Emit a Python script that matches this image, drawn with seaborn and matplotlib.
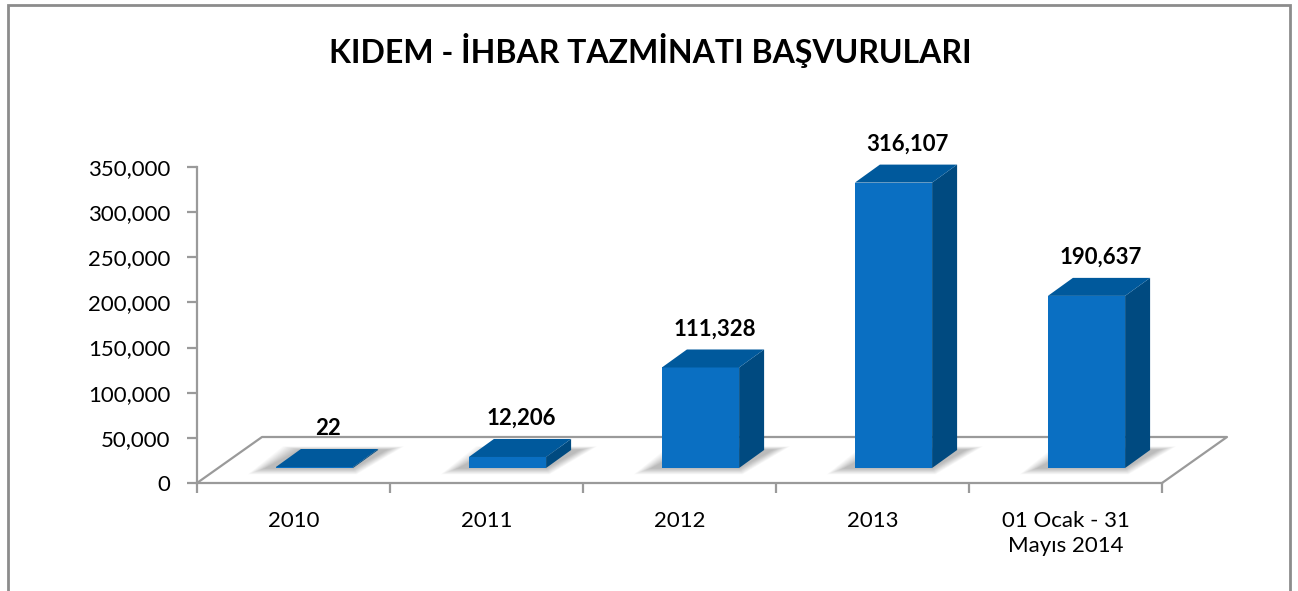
import matplotlib
matplotlib.use("Agg")
import matplotlib.pyplot as plt
import matplotlib.transforms as mtrans
from matplotlib.patches import Polygon, Rectangle
from matplotlib.lines import Line2D
from matplotlib.ticker import FuncFormatter, MultipleLocator
import seaborn as sns
import pandas as pd

# ---- data ----
categories = ["2010", "2011", "2012", "2013", "01 Ocak - 31\nMayıs 2014"]
values = [22, 12206, 111328, 316107, 190637]
value_labels = ["22", "12,206", "111,328", "316,107", "190,637"]
title = "KIDEM - İHBAR TAZMİNATI BAŞVURULARI"

FONT = ["Lato", "DejaVu Sans"]
sns.set_theme(style="white")
plt.rcParams["font.family"] = FONT

W, H, DPI = 1298, 591, 100
fig = plt.figure(figsize=(W / DPI, H / DPI), dpi=DPI)
fig.patch.set_facecolor("white")

# axes placement (pixels)
ax_l, ax_r, ax_b, ax_t = 197, 1162, 483, 167
ax = fig.add_axes([ax_l / W, (H - ax_b) / H, (ax_r - ax_l) / W, (ax_b - ax_t) / H])
ax.set_facecolor("none")

YMAX = 350000
df = pd.DataFrame({"cat": categories, "val": values})

FRONT = "#0A6FC2"
TOP = "#00599C"
SIDE = "#004A80"

sns.barplot(data=df, x="cat", y="val", color=FRONT, width=0.4, ax=ax,
            saturation=1, zorder=5)
ax.set_xlim(-0.5, len(categories) - 0.5)
ax.set_ylim(0, YMAX)

# pixel -> data scale
ax_w_px = ax_r - ax_l
ax_h_px = ax_b - ax_t
px_x = (len(categories)) / ax_w_px
px_y = YMAX / ax_h_px

# 3D geometry (pixels)
bar_shift = (21, 15)      # front face offset into the floor
bar_depth = (25, 18)      # bar depth
floor_depth = (65, 46)

shift_tr = mtrans.offset_copy(ax.transData, fig=fig, x=bar_shift[0], y=bar_shift[1], units="dots")

ddx, ddy = bar_depth[0] * px_x, bar_depth[1] * px_y
min_h = 1.0 * px_y

for p in ax.patches:
    x0 = p.get_x()
    w = p.get_width()
    h = max(p.get_height(), min_h)
    p.set_height(h)
    p.set_transform(shift_tr)
    p.set_edgecolor("none")
    x1 = x0 + w
    # soft shadow on the floor
    for k in range(12, 0, -1):
        e = k * 1.5
        sh = Polygon([(x0 - (e + 10) * px_x, -e * 0.35 * px_y),
                      (x1 + e * 0.2 * px_x, -e * 0.35 * px_y),
                      (x1 + ddx + (e + 8) * px_x, ddy + e * 0.2 * px_y),
                      (x0 + ddx - e * px_x, ddy + e * 0.2 * px_y)],
                     closed=True, facecolor="#000000", alpha=0.025,
                     edgecolor="none", transform=shift_tr, zorder=2, clip_on=False)
        ax.add_patch(sh)
    side = Polygon([(x1, 0), (x1 + ddx, ddy), (x1 + ddx, h + ddy), (x1, h)],
                   closed=True, facecolor=SIDE, edgecolor="none",
                   transform=shift_tr, zorder=5, clip_on=False)
    top = Polygon([(x0, h), (x1, h), (x1 + ddx, h + ddy), (x0 + ddx, h + ddy)],
                  closed=True, facecolor=TOP, edgecolor="none",
                  transform=shift_tr, zorder=5, clip_on=False)
    ax.add_patch(side)
    ax.add_patch(top)
    p.set_clip_on(False)

# data labels
lbl_tr = mtrans.offset_copy(ax.transData, fig=fig, x=bar_shift[0] + 14,
                            y=bar_shift[1] + bar_depth[1] + 10, units="dots")
for p, lab in zip(ax.patches[:len(values)], value_labels):
    cx = p.get_x() + p.get_width() / 2
    ax.text(cx, p.get_height(), lab, transform=lbl_tr, ha="center", va="bottom",
            fontsize=16, fontweight="bold", color="black", zorder=10)

# floor outline
fdx, fdy = floor_depth[0] * px_x, floor_depth[1] * px_y
x_lo, x_hi = -0.5, len(categories) - 0.5
GRAY = "#9A9A9A"
ax.add_line(Line2D([x_lo, x_lo + fdx, x_hi + fdx, x_hi], [0, fdy, fdy, 0],
                   color=GRAY, lw=1.6, clip_on=False, zorder=1))

# spines / ticks
for s in ["top", "right"]:
    ax.spines[s].set_visible(False)
for s in ["left", "bottom"]:
    ax.spines[s].set_color(GRAY)
    ax.spines[s].set_linewidth(1.6)
ax.yaxis.set_major_locator(MultipleLocator(50000))
ax.yaxis.set_major_formatter(FuncFormatter(lambda v, _: f"{int(v):,}"))
ax.set_xticks([i - 0.5 for i in range(len(categories) + 1)])
ax.set_xticks(range(len(categories)), minor=True)
ax.set_xticklabels([""] * (len(categories) + 1))
ax.set_xticklabels(categories, minor=True)
ax.tick_params(axis="x", which="major", length=7, width=1.6, color=GRAY, direction="out", bottom=True)
ax.tick_params(axis="x", which="minor", length=0, pad=20, labelsize=16, labelcolor="black")
ax.tick_params(axis="y", length=7, width=1.6, color=GRAY, direction="out", left=True,
               labelsize=16, labelcolor="black", pad=12)
for t in ax.get_xticklabels(minor=True):
    t.set_linespacing(1.3)
    t.set_va("top")
ax.set_xlabel("")
ax.set_ylabel("")
ax.grid(False)

# title
fig.text(650 / W, 1 - 50 / H, title, ha="center", va="center",
         fontsize=23, fontweight="bold", color="black")

# outer chart frame
fig.patches.append(Rectangle((8 / W, -0.05), (1290 - 8) / W, 1.05 - 5 / H,
                             transform=fig.transFigure, facecolor="none",
                             edgecolor="#8C8C8C", lw=2, zorder=0))

fig.savefig("out.png", dpi=DPI, facecolor="white")
